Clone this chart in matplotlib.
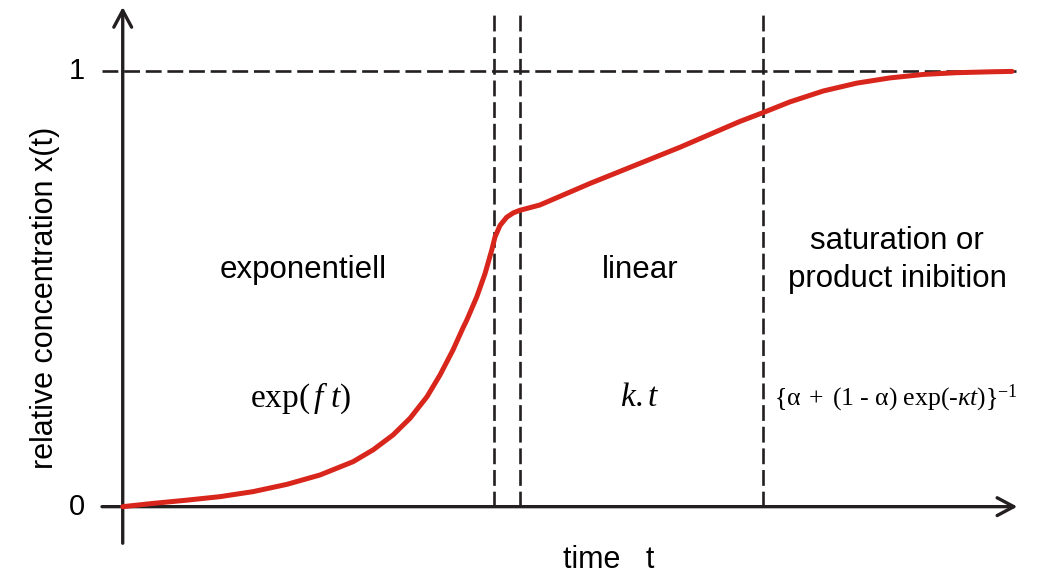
import matplotlib
matplotlib.use("Agg")
import matplotlib.pyplot as plt

plt.rcParams['font.family'] = ['Liberation Sans', 'DejaVu Sans']
plt.rcParams['mathtext.fontset'] = 'custom'
plt.rcParams['mathtext.rm'] = 'Liberation Serif'
plt.rcParams['mathtext.it'] = 'Liberation Serif:italic'

# curve (time in arbitrary units, 10 = end of curve)
time = [0, 0.341, 0.723, 1.094, 1.465, 1.847, 2.219, 2.590, 2.815, 3.040,
        3.231, 3.422, 3.568, 3.714, 3.826, 3.868, 3.981, 4.074, 4.149, 4.186,
        4.243, 4.318, 4.392, 4.460, 4.69, 5.26, 6.27, 6.94, 7.197, 7.504,
        7.878, 8.254, 8.628, 9.003, 9.378, 9.753, 10.0]
conc = [0, 0.0075, 0.0150, 0.0230, 0.0345, 0.0513, 0.0728, 0.1033, 0.1304,
        0.1648, 0.2031, 0.2527, 0.3026, 0.3600, 0.4106, 0.4282, 0.4818,
        0.5354, 0.5890, 0.6193, 0.6462, 0.6650, 0.6749, 0.6805, 0.693, 0.743,
        0.826, 0.885, 0.905, 0.930, 0.955, 0.973, 0.985, 0.993, 0.997, 0.999,
        1.0]

phase_bounds = [4.18, 4.47, 7.20]
phase_names = ["exponentiell", "linear", "saturation or\nproduct inibition"]
phase_x = [2.03, 5.82, 8.71]
phase_y = [0.544, 0.544, 0.566]
formulas = [r"$\mathrm{exp}(\,f\ t)$", r"$k.t$",
            r"$\mathrm{\{\alpha\;+\;(1\ \text{-}\ \alpha)\ exp(\text{-}}\kappa t\mathrm{)\}}^{\mathrm{-1}}$"]
formula_x = [2.0, 5.82, 8.70]
formula_size = [24, 24, 18.5]

black = "#231f20"
red = "#d9261c"

fig = plt.figure(figsize=(10.41, 5.75), dpi=100)
ax = fig.add_axes([0, 0, 1, 1])
ax.set_xlim(-1.380, 10.326)
ax.set_ylim(-0.157, 1.164)
ax.axis("off")

# axes with open arrow heads
arrow = dict(arrowstyle="->,head_length=0.6,head_width=0.32", lw=2.4,
             color=black, shrinkA=0, shrinkB=0, mutation_scale=20)
ax.annotate("", xy=(0, 1.148), xytext=(0, -0.084), arrowprops=arrow)
ax.annotate("", xy=(10.06, 0), xytext=(-0.233, 0), arrowprops=arrow)

# dashed guides
ax.vlines(phase_bounds, 0, 1.13, colors=black, lw=1.9, linestyles=(0, (6, 2.2)))
ax.hlines(1, -0.233, 10.04, colors=black, lw=1.9, linestyles=(0, (6, 2.2)))

ax.plot(time, conc, color=red, lw=3.6, solid_joinstyle="round",
        solid_capstyle="round", zorder=5)

ax.text(-0.52, 1, "1", fontsize=21, ha="center", va="center")
ax.text(-0.51, 0, "0", fontsize=21, ha="center", va="center")
ax.text(-0.875, 0.48, "relative concentration x(t)", fontsize=22,
        rotation=90, ha="center", va="center")
ax.text(5.46, -0.123, "time   t", fontsize=22, ha="center", va="center")

for name, x, y in zip(phase_names, phase_x, phase_y):
    ax.text(x, y, name, fontsize=22.5, ha="center", va="center", linespacing=1.35)

for f, x, s in zip(formulas, formula_x, formula_size):
    ax.text(x, 0.25, f, fontsize=s, ha="center", va="center")

fig.savefig("out.png", dpi=100)
